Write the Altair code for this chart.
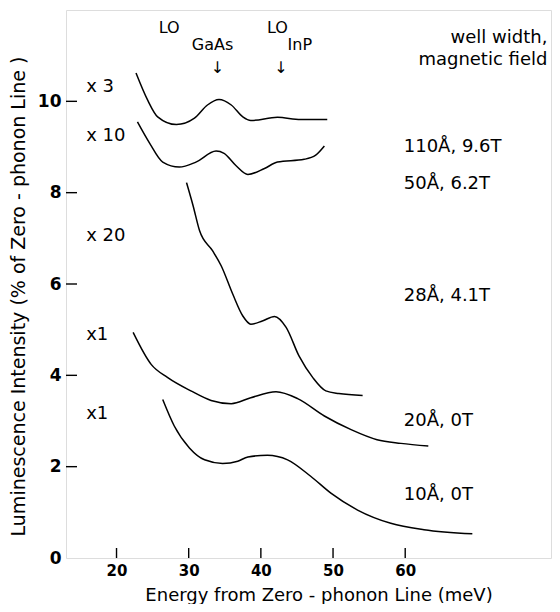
import altair as alt
import pandas as pd

# ---- data ----
x_110 = [22.7, 24.3, 25.7, 28.3, 30.8, 32.6, 34.2, 35.9, 37.5, 38.6, 42.3, 45.5, 49.2]
y_110 = [10.62, 10.03, 9.66, 9.49, 9.63, 9.92, 10.04, 9.92, 9.66, 9.58, 9.65, 9.60, 9.60]

x_50 = [22.9, 24.6, 26.4, 28.7, 31.0, 33.8, 34.9, 36.5, 38.2, 40.5, 42.3, 46.0, 47.6, 48.8]
y_50 = [9.55, 9.08, 8.67, 8.56, 8.67, 8.91, 8.86, 8.60, 8.40, 8.53, 8.67, 8.73, 8.82, 9.02]

x_28 = [29.7, 30.6, 31.5, 33.3, 34.5, 36.1, 37.5, 38.6, 40.2, 41.9, 43.5, 45.3, 47.2, 49.0, 50.8, 54.1]
y_28 = [8.22, 7.72, 7.17, 6.73, 6.40, 5.78, 5.30, 5.12, 5.19, 5.29, 5.05, 4.42, 3.95, 3.66, 3.60, 3.56]

x_20 = [22.3, 24.8, 27.1, 30.3, 33.1, 35.9, 38.6, 42.1, 45.1, 48.8, 52.5, 56.1, 59.4, 63.2]
y_20 = [4.94, 4.24, 3.95, 3.66, 3.45, 3.38, 3.51, 3.64, 3.49, 3.11, 2.81, 2.59, 2.51, 2.45]

x_10 = [26.4, 28.0, 30.1, 32.2, 34.7, 36.8, 38.2, 40.9, 43.7, 46.9, 49.7, 53.4, 58.0, 62.6, 69.3]
y_10 = [3.47, 2.89, 2.41, 2.15, 2.07, 2.12, 2.21, 2.25, 2.15, 1.79, 1.42, 1.05, 0.76, 0.62, 0.53]

series_names = ["110Å, 9.6T", "50Å, 6.2T", "28Å, 4.1T", "20Å, 0T", "10Å, 0T"]
series_x = [x_110, x_50, x_28, x_20, x_10]
series_y = [y_110, y_50, y_28, y_20, y_10]

# right-hand labels (well width, magnetic field) and left multipliers
label_y = [9.01, 8.2, 5.74, 3.01, 1.38]
mult_text = ["x 3", "x 10", "x 20", "x1", "x1"]
mult_y = [10.31, 9.25, 7.05, 4.88, 3.16]

x_ticks = [20, 30, 40, 50, 60]
y_ticks = [2, 4, 6, 8, 10]

W, H = 485, 548
FONT = "DejaVu Sans"

rows = []
for name, xs_, ys_ in zip(series_names, series_x, series_y):
    for i, (a, b) in enumerate(zip(xs_, ys_)):
        rows.append({"series": name, "x": a, "y": b, "order": i})
df = pd.DataFrame(rows)

xs = alt.Scale(domain=[13, 80.2], nice=False, zero=False)
ys = alt.Scale(domain=[0, 12], nice=False, zero=False)

lines = alt.Chart(df).mark_line(color="black", strokeWidth=1.5, interpolate="monotone").encode(
    x=alt.X("x:Q", scale=xs,
            axis=alt.Axis(values=x_ticks, title="Energy from Zero - phonon Line (meV)",
                          grid=False, domain=False, tickSize=0, labelPadding=5,
                          labelFontSize=15, labelFontWeight="bold", titleFontSize=18,
                          titlePadding=8, titleX=W / 2 + 10, labelFont=FONT, titleFont=FONT,
                          labelColor="black", titleColor="black", titleFontWeight="normal")),
    y=alt.Y("y:Q", scale=ys,
            axis=alt.Axis(values=[0] + y_ticks,
                          title="Luminescence Intensity (% of Zero - phonon Line )",
                          grid=False, domain=False, tickSize=0, labelPadding=5,
                          labelFontSize=17, labelFontWeight="bold", titleFontSize=19,
                          titlePadding=9, titleY=H / 2 + 12, labelFont=FONT, titleFont=FONT,
                          labelColor="black", titleColor="black", titleFontWeight="normal")),
    detail="series:N",
    order="order:Q",
)

xt = alt.Chart(pd.DataFrame({"t": x_ticks})).mark_rule(color="black", strokeWidth=1.4).encode(
    x=alt.X("t:Q", scale=xs), y=alt.value(H - 10), y2=alt.value(H))
yt = alt.Chart(pd.DataFrame({"t": y_ticks})).mark_rule(color="black", strokeWidth=1.4).encode(
    y=alt.Y("t:Q", scale=ys), x=alt.value(0), x2=alt.value(11))

lab_df = pd.DataFrame({"x": [59.8] * 5, "y": label_y, "text": series_names})
labels = alt.Chart(lab_df).mark_text(align="left", baseline="middle", fontSize=18,
                                     font=FONT, color="black").encode(
    x=alt.X("x:Q", scale=xs), y=alt.Y("y:Q", scale=ys), text="text:N")

mult_df = pd.DataFrame({"x": [15.8] * 5, "y": mult_y, "text": mult_text})
mults = alt.Chart(mult_df).mark_text(align="left", baseline="middle", fontSize=18,
                                     font=FONT, color="black").encode(
    x=alt.X("x:Q", scale=xs), y=alt.Y("y:Q", scale=ys), text="text:N")

head_df = pd.DataFrame({"x": [79.7, 79.7], "y": [11.38, 10.9],
                        "text": ["well width,", "magnetic field"]})
head = alt.Chart(head_df).mark_text(align="right", baseline="middle", fontSize=18,
                                    font=FONT, color="black").encode(
    x=alt.X("x:Q", scale=xs), y=alt.Y("y:Q", scale=ys), text="text:N")

lo_df = pd.DataFrame({"x": [27.3, 33.3, 42.3, 45.4], "y": [11.6, 11.23, 11.6, 11.23],
                      "text": ["LO", "GaAs", "LO", "InP"]})
lo = alt.Chart(lo_df).mark_text(align="center", baseline="middle", fontSize=16,
                                font=FONT, color="black").encode(
    x=alt.X("x:Q", scale=xs), y=alt.Y("y:Q", scale=ys), text="text:N")

arr_df = pd.DataFrame({"x": [34.0, 42.8], "y": [10.73, 10.73], "text": ["↓", "↓"]})
arrows = alt.Chart(arr_df).mark_text(align="center", baseline="middle", fontSize=16,
                                     font=FONT, color="black").encode(
    x=alt.X("x:Q", scale=xs), y=alt.Y("y:Q", scale=ys), text="text:N")

chart = alt.layer(lines, xt, yt, labels, mults, head, lo, arrows).properties(
    width=W, height=H,
    autosize=alt.AutoSizeParams(type="none"),
    padding={"left": 58, "top": 2, "right": 1, "bottom": 46},
).configure_view(stroke="black", strokeWidth=1.8).configure(background="white")

chart.save("out.html", embed_options={"renderer": "svg", "actions": False})
